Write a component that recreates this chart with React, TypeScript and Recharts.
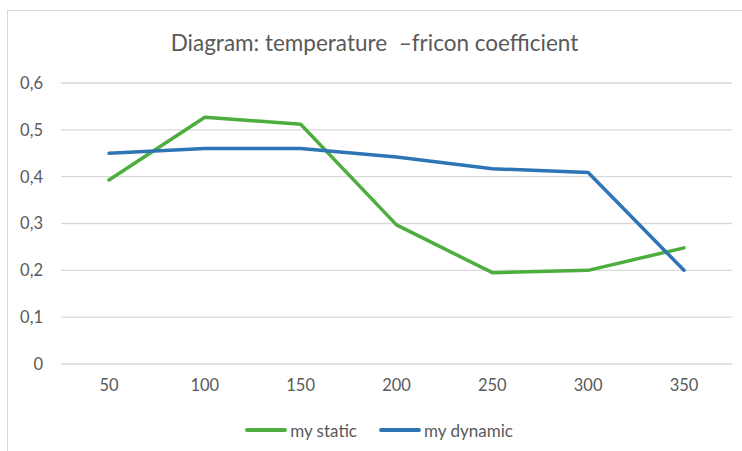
import { LineChart, Line, XAxis, YAxis, CartesianGrid, Legend } from "recharts";

const temperatures = ["50", "100", "150", "200", "250", "300", "350"];
const staticFriction = [0.393, 0.527, 0.512, 0.297, 0.195, 0.2, 0.248];
const dynamicFriction = [0.45, 0.46, 0.46, 0.442, 0.417, 0.409, 0.2];
const yTicks = [0, 0.1, 0.2, 0.3, 0.4, 0.5, 0.6];

const series = [
  { key: "static", name: "my static", color: "#4EAD3F" },
  { key: "dynamic", name: "my dynamic", color: "#2E75B6" },
];

const data = temperatures.map((t, i) => ({
  temp: t,
  static: staticFriction[i],
  dynamic: dynamicFriction[i],
}));

const FONT = "Lato, 'Open Sans', sans-serif";
const TEXT = "#595959";

function formatTick(v: number): string {
  if (v === 0) return "0";
  return v.toFixed(1).replace(".", ",");
}

function LegendContent() {
  return (
    <div
      style={{
        height: 24,
        display: "flex",
        alignItems: "center",
        justifyContent: "center",
        gap: 22,
        paddingLeft: 26,
        fontFamily: FONT,
        fontSize: 17,
        color: TEXT,
      }}
    >
      {series.map((s) => (
        <div key={s.key} style={{ display: "flex", alignItems: "center" }}>
          <span
            style={{
              display: "inline-block",
              width: 42,
              height: 4,
              borderRadius: 2,
              background: s.color,
              marginRight: 3,
            }}
          />
          <span>{s.name}</span>
        </div>
      ))}
    </div>
  );
}

export default function App() {
  return (
    <div
      style={{
        position: "fixed",
        left: 0,
        top: 0,
        width: 742,
        height: 451,
        background: "#fff",
        overflow: "hidden",
      }}
    >
      <div
        style={{
          position: "absolute",
          left: 7,
          top: 10,
          width: 760,
          height: 460,
          border: "1px solid #D9D9D9",
        }}
      />
      <div
        style={{
          position: "absolute",
          left: 8,
          width: 733,
          top: 29,
          textAlign: "center",
          fontFamily: FONT,
          fontSize: 22.5,
          color: TEXT,
          whiteSpace: "pre",
        }}
      >
        {"Diagram: temperature  \u2013fricon coefficient"}
      </div>
      <div style={{ position: "absolute", left: 0, top: 0 }}>
        <LineChart
          width={742}
          height={451}
          data={data}
          margin={{ top: 83, right: 10, left: 0, bottom: 9 }}
        >
          <CartesianGrid vertical={false} stroke="#D9D9D9" strokeWidth={1.3} />
          <XAxis
            dataKey="temp"
            axisLine={false}
            tickLine={false}
            tickSize={0}
            tickMargin={15}
            height={54}
            padding={{ left: 48, right: 48 }}
            tick={{ fontSize: 16.5, fill: TEXT, fontFamily: FONT }}
          />
          <YAxis
            domain={[0, 0.6]}
            ticks={yTicks}
            tickFormatter={formatTick}
            axisLine={false}
            tickLine={false}
            tickSize={0}
            tickMargin={18}
            width={61}
            tick={{ fontSize: 16.5, fill: TEXT, fontFamily: FONT }}
          />
          <Legend verticalAlign="bottom" content={<LegendContent />} />
          {series.map((s) => (
            <Line
              key={s.key}
              type="linear"
              dataKey={s.key}
              name={s.name}
              stroke={s.color}
              strokeWidth={3.5}
              strokeLinecap="round"
              strokeLinejoin="round"
              dot={false}
              activeDot={false}
              isAnimationActive={false}
            />
          ))}
        </LineChart>
      </div>
    </div>
  );
}
